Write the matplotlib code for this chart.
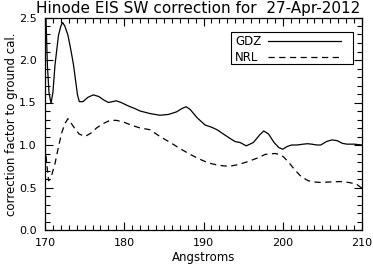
import matplotlib
matplotlib.use("Agg")
from matplotlib import pyplot as plt
from matplotlib.ticker import MultipleLocator
from matplotlib.patches import Rectangle

plt.rcParams['font.family'] = ['DejaVu Sans']
plt.rcParams['lines.scale_dashes'] = False

# GDZ correction curve
gdz_wave = [170.0, 170.3, 170.5, 170.76, 171.0, 171.26, 171.7, 172.0, 172.23, 172.5,
            172.9, 173.3, 173.6, 174.1, 174.33, 174.8, 175.4, 176.1, 176.8, 177.4,
            178.0, 178.5, 179.0, 179.6, 180.5, 181.3, 182.0, 183.25, 184.5, 185.6,
            186.6, 187.3, 187.8, 188.3, 189.2, 190.2, 191.0, 191.7, 192.5, 193.3,
            194.0, 194.6, 195.4, 196.3, 197.1, 197.6, 198.2, 198.9, 199.5, 200.0,
            200.5, 201.1, 201.8, 202.6, 203.1, 203.65, 204.3, 204.8, 205.5, 206.2,
            206.9, 207.5, 208.1, 209.0, 210.0]
gdz_corr = [2.90, 1.94, 1.62, 1.49, 1.62, 1.94, 2.29, 2.40, 2.44, 2.40,
            2.29, 2.10, 1.94, 1.59, 1.51, 1.51, 1.56, 1.59, 1.57, 1.53,
            1.50, 1.51, 1.52, 1.50, 1.46, 1.43, 1.40, 1.37, 1.35, 1.36,
            1.39, 1.43, 1.45, 1.42, 1.32, 1.235, 1.21, 1.18, 1.13, 1.08,
            1.04, 1.03, 0.99, 1.03, 1.12, 1.165, 1.13, 1.03, 0.97, 0.95,
            0.98, 1.00, 1.00, 1.01, 1.015, 1.01, 1.00, 1.00, 1.04, 1.06,
            1.05, 1.02, 1.01, 1.01, 1.00]

# NRL correction curve
nrl_wave = [170.0, 170.2, 170.45, 170.7, 171.26, 171.7, 172.1, 172.5, 172.9, 173.6,
            174.3, 175.05, 175.8, 176.5, 177.3, 178.2, 179.0, 179.9, 181.0, 182.0,
            183.25, 184.5, 185.8, 187.0, 188.3, 189.6, 190.6, 191.7, 192.5, 193.3,
            194.4, 195.45, 196.9, 197.8, 199.0, 199.6, 200.1, 200.8, 201.5, 202.3,
            203.2, 204.0, 204.7, 206.0, 207.2, 208.3, 209.3, 210.0]
nrl_corr = [1.00, 0.80, 0.58, 0.60, 0.78, 0.98, 1.14, 1.25, 1.31, 1.215,
            1.13, 1.10, 1.14, 1.20, 1.25, 1.29, 1.29, 1.27, 1.23, 1.20,
            1.18, 1.10, 1.03, 0.96, 0.89, 0.83, 0.79, 0.765, 0.755, 0.75,
            0.77, 0.80, 0.85, 0.89, 0.90, 0.89, 0.86, 0.79, 0.71, 0.63,
            0.58, 0.565, 0.56, 0.565, 0.57, 0.56, 0.54, 0.49]

series_names = ['GDZ', 'NRL']
line_dashes = [None, (4.5, 3.2)]

fig = plt.figure(figsize=(3.73, 2.66), dpi=100)
ax = fig.add_axes([45 / 373, 36 / 266, 317 / 373, 212.5 / 266])

ax.plot(gdz_wave, gdz_corr, color='black', lw=0.9)
ax.plot(nrl_wave, nrl_corr, color='black', lw=0.9, dashes=line_dashes[1])

ax.set_xlim(170, 210)
ax.set_ylim(0, 2.5)
ax.xaxis.set_major_locator(MultipleLocator(10))
ax.xaxis.set_minor_locator(MultipleLocator(1))
ax.yaxis.set_major_locator(MultipleLocator(0.5))
ax.yaxis.set_minor_locator(MultipleLocator(0.1))
ax.yaxis.set_major_formatter(plt.FormatStrFormatter('%.1f'))
ax.tick_params(which='both', direction='in', top=True, right=True, width=0.8,
               labelsize=8, color='black')
ax.tick_params(which='major', length=6)
ax.tick_params(which='minor', length=3.5)
ax.tick_params(axis='x', pad=6)
ax.tick_params(axis='y', pad=6)
for sp in ax.spines.values():
    sp.set_linewidth(0.9)

ax.set_xlabel('Angstroms', fontsize=8.5, labelpad=2)
ax.set_ylabel('correction factor to ground cal.', fontsize=8.5, labelpad=1)
fig.text(198 / 373, 1 - 9 / 266, 'Hinode EIS SW correction for  27-Apr-2012',
         ha='center', va='center', fontsize=11)

# IDL-style legend box: label first, then the line sample
ax.add_patch(Rectangle((0.587, 0.78), 0.3856, 0.153, transform=ax.transAxes,
                       facecolor='white', edgecolor='black', lw=0.8, zorder=5))
for i, name in enumerate(series_names):
    y = 0.889 - i * 0.076
    ax.text(0.599, y, name, transform=ax.transAxes, fontsize=8.5,
            ha='left', va='center', zorder=6)
    ax.plot([0.704, 0.934], [y, y], transform=ax.transAxes, color='black', lw=0.9,
            zorder=6, **({'dashes': line_dashes[i]} if line_dashes[i] else {}))

fig.savefig('out.png', dpi=100)
